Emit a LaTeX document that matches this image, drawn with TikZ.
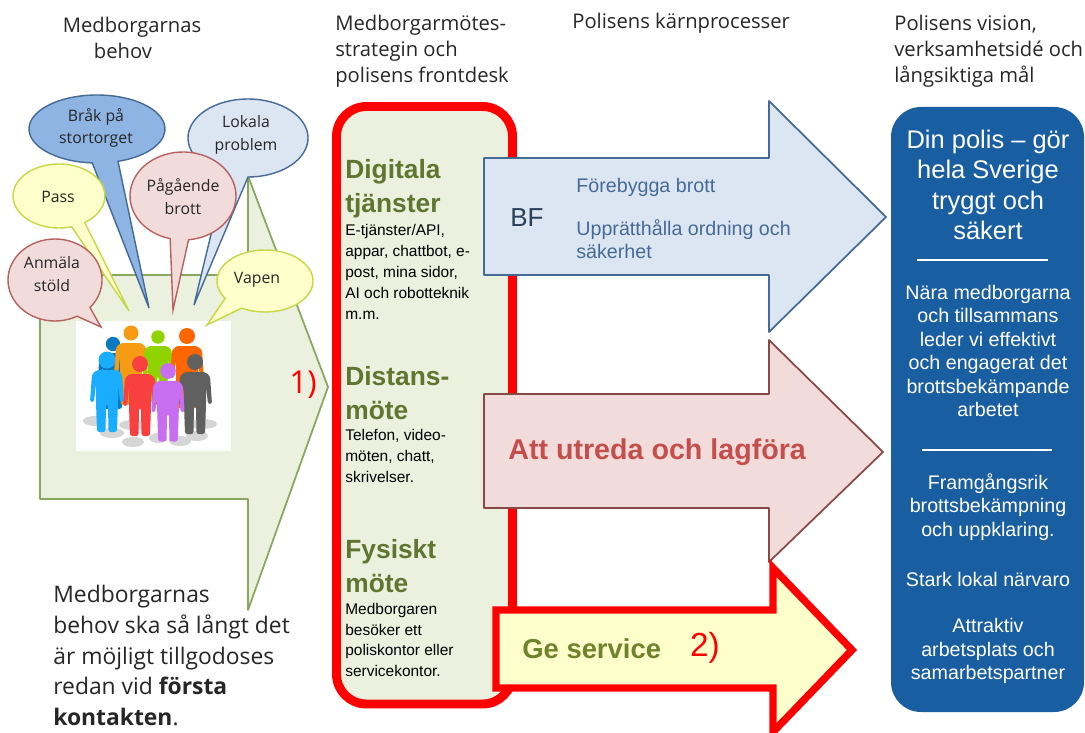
\documentclass[tikz,border=0pt]{standalone}
\usepackage{fontspec}
\setmainfont{Open Sans}
\newfontfamily\arialfont{Liberation Sans}
\usetikzlibrary{positioning}

\definecolor{panelgreen}{HTML}{EBF1DE}
\definecolor{edgegreen}{HTML}{8AA660}
\definecolor{olivetext}{HTML}{5F7530}
\definecolor{lightblue}{HTML}{DCE6F2}
\definecolor{midblue}{HTML}{8EB4E3}
\definecolor{edgeblue}{HTML}{466A96}
\definecolor{lightred}{HTML}{F2DCDB}
\definecolor{edgered}{HTML}{B5625F}
\definecolor{lightyellow}{HTML}{FFFFCC}
\definecolor{edgeyellow}{HTML}{C6D846}
\definecolor{policeblue}{HTML}{1A5EA2}

% speech bubble: style, centre, x radius, y radius, tip, start angle, end angle
\newcommand{\bubble}[7]{
    \draw[#1] (#2) ++(#6:#3 and #4) arc[start angle=#6,end angle=#7,x radius=#3,y radius=#4] -- (#5) -- cycle;
}
% one figure: head position, colour (hex), head radius, height factor
\newcommand{\person}[4]{
    \definecolor{personcol}{HTML}{#2}
    \begin{scope}[shift={(#1)},scale=#4]
        \fill[personcol] (0,0) circle (#3);
        \fill[personcol,rounded corners=1.4pt] (-10,10) -- (10,10) -- (15,14) -- (17,42) -- (13,42) -- (11,24) -- (11,42)
            -- (10,72) -- (1.5,72) -- (1,44) -- (-1,44) -- (-1.5,72) -- (-10,72) -- (-11,42) -- (-11,24)
            -- (-13,42) -- (-17,42) -- (-15,14) -- cycle;
    \end{scope}
}

\begin{document}
\begin{tikzpicture}[x=0.02cm,y=-0.02cm,
    heading/.style={font=\fontsize{11.5}{14.9}\selectfont,align=left,anchor=west,text=black!85,inner sep=0pt},
    bubbletext/.style={font=\fontsize{9}{13}\selectfont,align=center,text=black!85},
    bubblered/.style={fill=lightred,draw=edgered,line width=0.8pt},
    bubbleblue/.style={fill=midblue,draw=edgeblue,line width=0.8pt},
    bubblepale/.style={fill=lightblue,draw=edgeblue,line width=0.8pt},
    bubbleyellow/.style={fill=lightyellow,draw=edgeyellow,line width=0.8pt},
    channel/.style={font=\arialfont\bfseries\fontsize{15}{19.2}\selectfont,align=left,anchor=west,text=olivetext,inner sep=0pt},
    channelsub/.style={font=\arialfont\fontsize{8.8}{11.9}\selectfont,align=left,anchor=west,text=black,inner sep=0pt},
    visionbig/.style={font=\arialfont\fontsize{14.5}{17.4}\selectfont,align=center,text=white},
    visionsmall/.style={font=\arialfont\fontsize{11.2}{13.4}\selectfont,align=center,text=white}
]
\clip (0,0) rectangle (1085,733);

% === Column headings ===
\node[heading,align=center,anchor=center] (needshead) at (132,38) {Medborgarnas\\behov\hspace*{0.9em}};
\node[heading] (fronthead) at (335,51) {Medborgarmötes-\\strategin och\\polisens frontdesk};
\node[heading] (corehead) at (572,23) {Polisens kärnprocesser};
\node[heading] (visionhead) at (894,51) {Polisens vision,\\verksamhetsidé och\\långsiktiga mål};

% === Citizens' needs arrow ===
\draw[fill=panelgreen,draw=edgegreen,line width=1pt,line join=round] (40,275) -- (248,275) -- (248,176) -- (328,387)
    -- (248,610) -- (248,499) -- (40,499) -- cycle;
\node[font=\fontsize{18}{18}\selectfont,text=red] (noteone) at (303,385) {1)};

% Group of people
\fill[white] (76,321) rectangle (231,451);
\foreach \sx/\sy/\sw in {95/421/12,112/433/12,133/425/14,133/442/11,158/438/9,180/441/11,203/424/14,197/436/11}
    \fill[black!16] (\sx,\sy) ellipse (\sw*1 and 5);
\person{113,344}{0A7ABF}{8}{0.9}
\person{131,333}{F79A14}{7.5}{1}
\person{158,337}{8FD400}{7.5}{0.9}
\person{187,336}{FF6600}{8}{1}
\person{107,360}{1AADFF}{8.5}{1}
\person{195,362}{606060}{8}{1}
\person{140,364}{F94040}{8}{1}
\person{168,371}{C86EF0}{8}{0.98}

% === Speech bubbles ===
\bubble{bubblepale}{248,138}{60}{39}{194,305}{112}{450}
\bubble{bubbleblue}{97,129}{68}{34}{149,308}{94}{432}
\bubble{bubbleyellow}{59,196}{46}{32}{129,311}{74}{416}
\bubble{bubblered}{55,280}{47}{41}{101,327}{62}{402}
\bubble{bubblered}{183,196}{53}{44}{173,310}{104}{444}
\bubble{bubbleyellow}{265,281}{48}{31}{207,325}{146}{479}
\node[bubbletext] (brak) at (96,128) {Bråk på\\stortorget};
\node[bubbletext] (lokala) at (246,135) {Lokala\\problem};
\node[bubbletext] (pagaende) at (183,197) {Pågående\\brott};
\node[bubbletext] (pass) at (58,197) {Pass};
\node[bubbletext] (anmala) at (52,274) {Anmäla\\stöld};
\node[bubbletext] (vapen) at (257,280) {Vapen};

\node[font=\fontsize{13}{17.5}\selectfont,align=left,anchor=north west,text=black!85,inner sep=0pt] (firstcontact) at (53,585)
    {Medborgarnas\\behov ska så långt det\\är möjligt tillgodoses\\redan vid \textbf{första}\\\textbf{kontakten}.};

% === Front desk column ===
\draw[fill=panelgreen,draw=red,line width=5.1pt,rounded corners=17pt] (336.5,106.5) rectangle (512.5,704);
\node[channel] (digital) at (345,189) {Digitala\\tjänster};
\node[channelsub] (digitalsub) at (345,272) {E-tjänster/API,\\appar, chattbot, e-\\post, mina sidor,\\AI och robotteknik\\m.m.};
\node[channel] (distans) at (345,393) {Distans-\\möte};
\node[channelsub] (distanssub) at (345,456) {Telefon, video-\\möten, chatt,\\skrivelser.};
\node[channel] (fysiskt) at (345,566) {Fysiskt\\möte};
\node[channelsub] (fysisktsub) at (345,640) {Medborgaren\\besöker ett\\poliskontor eller\\servicekontor.};

% === Core process arrows ===
\draw[fill=lightblue,draw=edgeblue,line width=1pt,line join=round] (484,158) -- (769,158) -- (769,101) -- (886,217)
    -- (769,332) -- (769,275) -- (484,275) -- cycle;
\node[font=\arialfont\fontsize{14.8}{14.8}\selectfont,text=edgeblue!60!black,anchor=west,inner sep=0pt] (bf) at (510,218) {BF};
\node[font=\arialfont\fontsize{11.2}{13}\selectfont,text=edgeblue,anchor=west,inner sep=0pt] (prevent) at (576,187) {Förebygga brott};
\node[font=\arialfont\fontsize{11.2}{13}\selectfont,text=edgeblue,anchor=west,align=left,inner sep=0pt] (order) at (576,239) {Upprätthålla ordning och\\säkerhet};

\draw[fill=lightred,draw=edgered!75!black,line width=1pt,line join=round] (484,394) -- (769,394) -- (769,340) -- (883,452)
    -- (769,562) -- (769,508) -- (484,508) -- cycle;
\node[font=\arialfont\bfseries\fontsize{16.3}{16.3}\selectfont,text=edgered!80!red,anchor=west,inner sep=0pt] (investigate) at (508,452) {Att utreda och lagföra};

\draw[fill=lightyellow,draw=red,line width=4.2pt,miter limit=10] (496,610) -- (773,610) -- (773,568) -- (852,650)
    -- (773,732) -- (773,688) -- (496,688) -- cycle;
\node[font=\arialfont\bfseries\fontsize{15.6}{15.6}\selectfont,text=olivetext!90!yellow,anchor=west,inner sep=0pt] (service) at (522,649) {Ge service};
\node[font=\arialfont\fontsize{19}{19}\selectfont,text=red] (notetwo) at (705,648) {2)};

% === Vision panel ===
\fill[policeblue,rounded corners=17pt] (891,107) rectangle (1084,712);
\node[visionbig] (vision) at (988,185) {Din polis – gör\\hela Sverige\\tryggt och\\säkert};
\draw[white,line width=0.8pt] (917,260) -- (1048,260);
\node[visionsmall] (goalone) at (988,351) {Nära medborgarna\\och tillsammans\\leder vi effektivt\\och engagerat det\\brottsbekämpande\\arbetet};
\draw[white,line width=0.8pt] (922,450) -- (1052,450);
\node[visionsmall] (goaltwo) at (988,507) {Framgångsrik\\brottsbekämpning\\och uppklaring.};
\node[visionsmall] (goalthree) at (988,579) {Stark lokal närvaro};
\node[visionsmall] (goalfour) at (988,651) {Attraktiv\\arbetsplats och\\samarbetspartner};

\end{tikzpicture}
\end{document}
